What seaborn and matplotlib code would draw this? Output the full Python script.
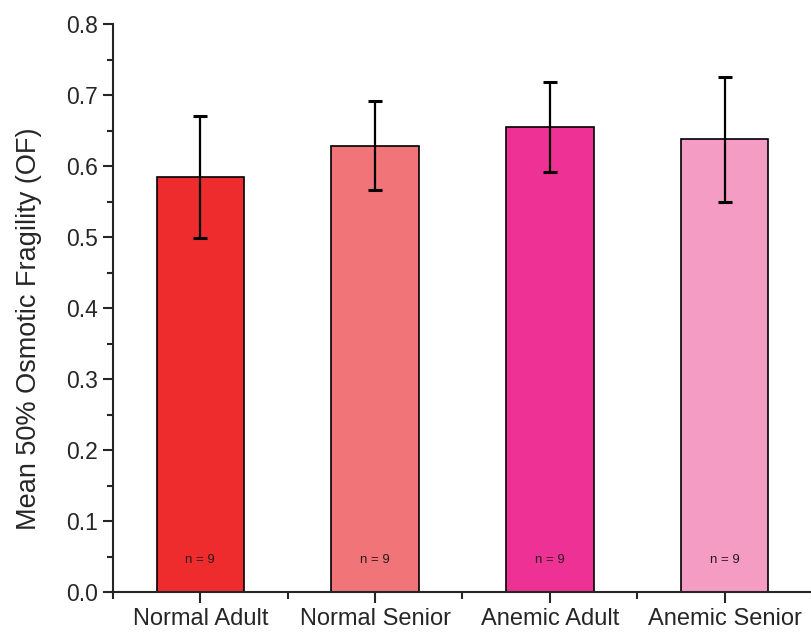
import matplotlib
matplotlib.use("Agg")
import matplotlib.pyplot as plt
import seaborn as sns
import numpy as np
import pandas as pd
from matplotlib.ticker import MultipleLocator

# --- data ---
groups = ["Normal Adult", "Normal Senior", "Anemic Adult", "Anemic Senior"]
mean_of = [0.585, 0.629, 0.655, 0.638]
sd_of = [0.086, 0.063, 0.064, 0.088]
n_labels = ["n = 9", "n = 9", "n = 9", "n = 9"]
colors = ["#EE2C2E", "#F07478", "#EE3194", "#F49CC4"]

df = pd.DataFrame({"Group": groups, "OF": mean_of})

sns.set_style("ticks")
plt.rcParams["font.family"] = ["Liberation Sans", "DejaVu Sans"]

fig = plt.figure(figsize=(8.12, 6.34), dpi=100)
ax = fig.add_axes([0.139, 0.066, 0.861, 0.896])

sns.barplot(
    data=df, x="Group", y="OF", hue="Group", order=groups,
    palette=dict(zip(groups, colors)), width=0.5,
    edgecolor="black", linewidth=1.2, saturation=1, legend=False, ax=ax,
)

pos = np.arange(len(groups))
ax.errorbar(pos, mean_of, yerr=sd_of, fmt="none", ecolor="black",
            elinewidth=1.6, capsize=5, capthick=2.2, zorder=5)

for x, lab in zip(pos, n_labels):
    ax.text(x, 0.045, lab, ha="center", va="center", fontsize=9.5, color="#2a1a1a")

ax.set_ylim(0, 0.8)
ax.set_xlim(-0.5, 3.47)
ax.yaxis.set_major_locator(MultipleLocator(0.1))
ax.yaxis.set_minor_locator(MultipleLocator(0.05))
ax.set_xticks(pos)
ax.set_xticks(list(pos + 0.5) + [-0.5], minor=True)
ax.set_yticklabels([f"{v:.1f}" for v in ax.get_yticks()])

ax.set_xlabel("")
ax.set_ylabel("Mean 50% Osmotic Fragility (OF)", fontsize=19.5)
ax.yaxis.set_label_coords(-0.101, 0.463)
ax.tick_params(axis="y", which="major", labelsize=16.5, length=7, width=1.5, direction="out")
ax.tick_params(axis="y", which="minor", length=4, width=1.5, direction="out")
ax.tick_params(axis="x", which="major", labelsize=17, length=8, width=1.5, direction="out")
ax.tick_params(axis="x", which="minor", length=5, width=1.5, direction="out")

sns.despine(ax=ax)
for s in ["left", "bottom"]:
    ax.spines[s].set_linewidth(1.5)

fig.savefig("out.png", dpi=100)
